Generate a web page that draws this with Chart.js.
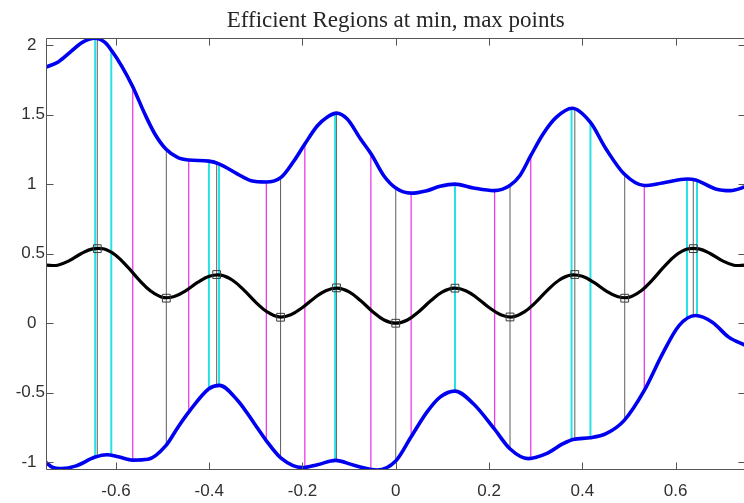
<!DOCTYPE html>
<html>
<head>
<meta charset="utf-8">
<script src="https://cdn.jsdelivr.net/npm/chart.js@4.4.1/dist/chart.umd.min.js"></script>
<style>
  html, body { margin: 0; padding: 0; background: #ffffff; overflow: hidden; }
  canvas { display: block; }
</style>
</head>
<body>
<canvas id="c" width="752" height="503"></canvas>
<script>
// Tick values shown on the axes
const xTicks = [-0.6, -0.4, -0.2, 0, 0.2, 0.4, 0.6];
const yTicks = [-1, -0.5, 0, 0.5, 1, 1.5, 2];

// Objective curve f(x)
const fX = [-0.75,-0.725,-0.7,-0.675,-0.65,-0.625,-0.6,-0.575,-0.55,-0.525,-0.5,-0.475,-0.45,-0.425,-0.4,-0.375,-0.35,-0.325,-0.3,-0.275,-0.25,-0.225,-0.2,-0.175,-0.15,-0.125,-0.1,-0.075,-0.05,-0.025,0,
            0.025,0.05,0.075,0.1,0.125,0.15,0.175,0.2,0.225,0.25,0.275,0.3,0.325,0.35,0.375,0.4,0.425,0.45,0.475,0.5,0.525,0.55,0.575,0.6,0.625,0.65,0.675,0.7,0.725,0.75];
const fY = [0.418,0.417,0.450,0.499,0.534,0.533,0.487,0.405,0.310,0.230,0.186,0.192,0.235,0.293,0.337,0.346,0.309,0.236,0.150,0.080,0.045,0.061,0.113,0.180,0.234,0.252,0.225,0.161,0.085,0.023,0,
            0.023,0.085,0.161,0.225,0.252,0.234,0.180,0.113,0.061,0.045,0.080,0.150,0.236,0.309,0.346,0.337,0.293,0.235,0.192,0.186,0.230,0.310,0.405,0.487,0.533,0.534,0.499,0.450,0.417,0.418];

// Upper envelope
const upperX = [-0.75,-0.723,-0.695,-0.673,-0.645,-0.623,-0.609,-0.588,-0.564,-0.538,-0.5165,-0.493,-0.467,-0.444,-0.4006,-0.378,-0.339,-0.31,-0.278,-0.246,-0.218,-0.195,-0.168,-0.1466,-0.127,-0.104,-0.0755,-0.0527,-0.0256,0,
                0.0327,0.0668,0.095,0.127,0.1665,0.211,0.2447,0.266,0.2895,0.316,0.344,0.3785,0.4175,0.451,0.49,0.533,0.572,0.6254,0.643,0.686,0.718,0.75];
const upperY = [1.84,1.88,1.958,2.017,2.048,2.017,1.958,1.85,1.70,1.503,1.36,1.252,1.19,1.173,1.165,1.144,1.072,1.024,1.015,1.048,1.168,1.288,1.419,1.482,1.51,1.467,1.324,1.216,1.06,0.972,
                0.935,0.953,0.984,1.0,0.972,0.953,0.99,1.06,1.204,1.36,1.479,1.545,1.443,1.252,1.072,0.99,1.008,1.037,1.03,0.965,0.953,0.98];

// Lower envelope
const lowerX = [-0.75,-0.737,-0.716,-0.687,-0.6445,-0.62,-0.595,-0.564,-0.531,-0.493,-0.467,-0.444,-0.4006,-0.378,-0.339,-0.303,-0.277,-0.246,-0.2,-0.168,-0.129,-0.0897,-0.04,0,
                0.0327,0.0668,0.095,0.127,0.1665,0.211,0.2447,0.284,0.323,0.3586,0.38,0.4175,0.451,0.49,0.533,0.572,0.6075,0.643,0.6788,0.714,0.75];
const lowerY = [-1.0,-1.034,-1.045,-1.027,-0.962,-0.945,-0.96,-0.984,-0.978,-0.88,-0.747,-0.639,-0.471,-0.447,-0.555,-0.722,-0.847,-0.97,-1.038,-1.017,-0.986,-1.021,-1.055,-0.99,
                -0.818,-0.639,-0.531,-0.488,-0.579,-0.758,-0.902,-0.973,-0.938,-0.866,-0.835,-0.823,-0.794,-0.698,-0.483,-0.22,-0.017,0.055,0.007,-0.1,-0.16];

// Local extrema of f
const extremaX = [-0.64,-0.492,-0.384,-0.247,-0.127,0,0.127,0.245,0.384,0.491,0.638];
const extremaY = [0.536,0.18,0.35,0.043,0.254,0,0.252,0.045,0.35,0.18,0.536];

// Stems at the extrema (black), spanning lower to upper envelope
const blackStemX    = [-0.64,-0.492,-0.384,-0.247,-0.127,0,0.127,0.245,0.384,0.491,0.638];
const blackStemLow  = [-0.96,-0.88,-0.447,-0.97,-0.986,-0.99,-0.488,-0.902,-0.835,-0.698,0.055];
const blackStemHigh = [2.045,1.25,1.15,1.048,1.51,0.972,1.0,0.99,1.54,1.072,1.03];

// Cyan region bounds
const cyanX    = [-0.6445,-0.61,-0.4006,-0.379,-0.13,0.127,0.377,0.4175,0.6245,0.646];
const cyanLow  = [-0.962,-0.948,-0.471,-0.447,-0.986,-0.488,-0.84,-0.823,0.04,0.055];
const cyanHigh = [2.048,1.96,1.165,1.145,1.51,1.0,1.545,1.443,1.037,1.03];

// Magenta region bounds
const magentaX    = [-0.564,-0.444,-0.2775,-0.195,-0.0534,0.033,0.212,0.2895,0.533];
const magentaLow  = [-0.984,-0.639,-0.847,-1.035,-1.045,-0.818,-0.758,-0.973,-0.483];
const magentaHigh = [1.70,1.173,1.013,1.288,1.22,0.935,0.953,1.204,0.99];

const pairs = (xs, ys) => xs.map((x, i) => ({ x, y: ys[i] }));

function stems(xs, lows, highs, color, width, order) {
  return xs.map((x, i) => ({
    data: [{ x, y: lows[i] }, { x, y: highs[i] }],
    borderColor: color,
    borderWidth: width,
    pointRadius: 0,
    tension: 0,
    order
  }));
}

const datasets = [
  {
    data: pairs(extremaX, extremaY),
    showLine: false,
    pointStyle: 'rect',
    pointRadius: 5.5,
    pointBorderColor: '#3a3a3a',
    pointBackgroundColor: 'rgba(0,0,0,0)',
    pointBorderWidth: 1,
    order: 0
  },
  {
    data: pairs(fX, fY),
    borderColor: '#000000',
    borderWidth: 3.2,
    pointRadius: 0,
    tension: 0.4,
    order: 1
  },
  {
    data: pairs(upperX, upperY),
    borderColor: '#0000f0',
    borderWidth: 3.6,
    pointRadius: 0,
    tension: 0.4,
    cubicInterpolationMode: 'monotone',
    order: 2
  },
  {
    data: pairs(lowerX, lowerY),
    borderColor: '#0000f0',
    borderWidth: 3.6,
    pointRadius: 0,
    tension: 0.4,
    cubicInterpolationMode: 'monotone',
    order: 2
  },
  ...stems(cyanX, cyanLow, cyanHigh, 'rgb(40,225,230)', 2, 3),
  ...stems(blackStemX, blackStemLow, blackStemHigh, 'rgba(40,40,40,0.75)', 1, 4),
  ...stems(magentaX, magentaLow, magentaHigh, 'rgb(235,60,235)', 1.3, 5)
];

// Closed frame with inward tick marks on all four sides
const frameTicks = {
  id: 'frameTicks',
  afterDraw(chart) {
    const { ctx, chartArea: a, scales: { x, y } } = chart;
    const len = 7;
    ctx.save();
    ctx.strokeStyle = '#555555';
    ctx.lineWidth = 1;
    ctx.beginPath();
    const L = Math.round(a.left) + 0.5, R = Math.round(a.right) - 0.5;
    const T = Math.round(a.top) + 0.5, B = Math.round(a.bottom) - 0.5;
    ctx.moveTo(L, T); ctx.lineTo(R, T); ctx.lineTo(R, B); ctx.lineTo(L, B); ctx.closePath();
    x.ticks.forEach(t => {
      const px = Math.round(x.getPixelForValue(t.value)) + 0.5;
      ctx.moveTo(px, B); ctx.lineTo(px, B - len);
      ctx.moveTo(px, T); ctx.lineTo(px, T + len);
    });
    y.ticks.forEach(t => {
      const py = Math.round(y.getPixelForValue(t.value)) + 0.5;
      ctx.moveTo(L, py); ctx.lineTo(L + len, py);
      ctx.moveTo(R, py); ctx.lineTo(R - len, py);
    });
    ctx.stroke();
    ctx.restore();
  }
};

new Chart(document.getElementById('c'), {
  type: 'line',
  data: { datasets },
  plugins: [frameTicks],
  options: {
    responsive: false,
    animation: false,
    events: [],
    layout: { padding: { left: 0, right: 2, top: 0, bottom: 0 } },
    plugins: {
      legend: { display: false },
      tooltip: { enabled: false },
      title: {
        display: true,
        fullSize: false,
        text: 'Efficient Regions at min, max points',
        color: '#262626',
        font: { family: 'Liberation Serif', size: 23, weight: 'normal', lineHeight: 1.2 },
        padding: { top: 7, bottom: 3.4 }
      }
    },
    scales: {
      x: {
        type: 'linear',
        min: -0.75,
        max: 0.75,
        grid: { display: false, drawTicks: false },
        border: { display: false },
        afterBuildTicks: s => { s.ticks = xTicks.map(v => ({ value: v })); },
        afterFit: s => { s.height = 33; },
        ticks: {
          padding: 11,
          color: '#303030',
          font: { family: 'Liberation Sans', size: 17 },
          maxRotation: 0,
          callback: v => String(v)
        }
      },
      y: {
        type: 'linear',
        min: -1.055,
        max: 2.05,
        grid: { display: false, drawTicks: false },
        border: { display: false },
        afterBuildTicks: s => { s.ticks = yTicks.map(v => ({ value: v })); },
        afterFit: s => { s.width = 46; },
        ticks: {
          padding: 1,
          color: '#303030',
          font: { family: 'Liberation Sans', size: 17 },
          callback: v => Number.isInteger(v) ? String(v) + '\u2002' : String(v)
        }
      }
    }
  }
});
</script>
</body>
</html>
